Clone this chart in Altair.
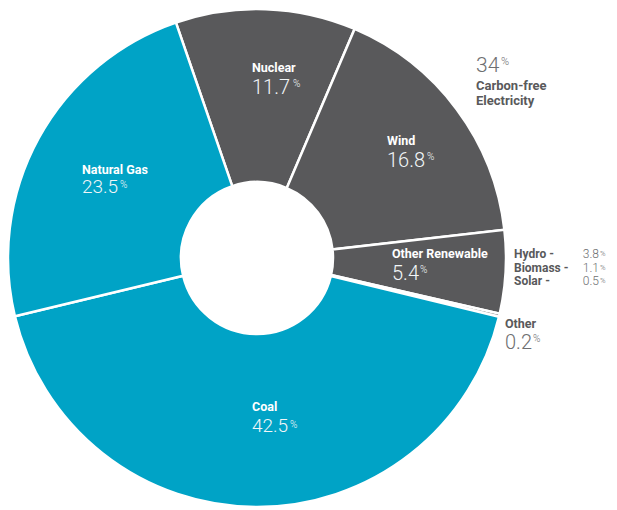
import math
import altair as alt
import pandas as pd

# ---- data ----
categories = ["Nuclear", "Wind", "Other Renewable", "Other", "Coal", "Natural Gas"]
shares = [11.7, 16.8, 5.4, 0.2, 42.5, 23.5]
groups = ["carbon-free", "carbon-free", "carbon-free", "other", "fossil", "fossil"]

carbon_free_total = "34"
carbon_free_lines = ["Carbon-free", "Electricity"]
renew_names = ["Hydro -", "Biomass -", "Solar -"]
renew_values = [3.8, 1.1, 0.5]

# ---- styles / layout ----
TEAL = "#00A3C6"
GREY = "#59595B"
LGREY = "#6E6F71"
LABEL_FONT = "Roboto"
VALUE_FONT = "Roboto"
CX, CY = 257, 258
R_OUT, R_IN = 249, 76
START = 2 * math.pi - math.radians(19)

pie_df = pd.DataFrame({
    "category": categories,
    "share": shares,
    "group": groups,
    "idx": list(range(len(categories))),
})

pie = alt.Chart(pie_df).mark_arc(
    outerRadius=R_OUT, innerRadius=R_IN, stroke="white", strokeWidth=2.5
).encode(
    theta=alt.Theta("share:Q", stack=True,
                    scale=alt.Scale(range=[START, START + 2 * math.pi])),
    order=alt.Order("idx:Q"),
    color=alt.Color("group:N",
                    scale=alt.Scale(domain=["carbon-free", "other", "fossil"],
                                    range=[GREY, GREY, TEAL]),
                    legend=None),
    x=alt.value(CX),
    y=alt.value(CY),
)

# label layout: left x, label baseline, value baseline, % x, % top, value size, inside?
layout = {
    "Nuclear":         (252, 72, 94, 293, 79, 20, True),
    "Wind":            (387, 145, 167, 427, 152, 20, True),
    "Other Renewable": (392, 258, 280, 420, 265, 20, True),
    "Other":           (505, 328, 349, 533, 334, 20, False),
    "Coal":            (252, 411, 432, 290, 420, 19, True),
    "Natural Gas":     (82, 174, 193, 120, 180, 19, True),
}

rows = []
for cat, val in zip(categories, shares):
    lx, ly, vy, px, py, vs, inside = layout[cat]
    rows.append({"cat": cat, "val": f"{val}", "lx": lx, "ly": ly, "vy": vy,
                 "px": px, "py": py, "vs": vs,
                 "lc": "white" if inside else GREY,
                 "vc": "#F2F6F8" if inside else LGREY})
lab_df = pd.DataFrame(rows)


def X(f):
    return alt.X(f"{f}:Q", scale=None, axis=None)


def Y(f):
    return alt.Y(f"{f}:Q", scale=None, axis=None)


cat_text = alt.Chart(lab_df).mark_text(
    align="left", baseline="alphabetic", font=LABEL_FONT, fontWeight="bold", fontSize=12.5
).encode(x=X("lx"), y=Y("ly"), text="cat:N", color=alt.Color("lc:N", scale=None))

val_text = alt.Chart(lab_df).mark_text(
    align="left", baseline="alphabetic", font=VALUE_FONT, fontWeight=300
).encode(x=X("lx"), y=Y("vy"), text="val:N",
         size=alt.Size("vs:Q", scale=None, legend=None),
         color=alt.Color("vc:N", scale=None))

pct_text = alt.Chart(lab_df).mark_text(
    align="left", baseline="top", font=VALUE_FONT, fontWeight=300, fontSize=10
).encode(x=X("px"), y=Y("py"), text=alt.value("%"),
         color=alt.Color("vc:N", scale=None))

# carbon-free annotation
cf_df = pd.DataFrame({"t": carbon_free_lines, "x": [476, 476], "y": [90, 105]})
cf_lines = alt.Chart(cf_df).mark_text(
    align="left", baseline="alphabetic", font=LABEL_FONT, fontWeight="bold",
    fontSize=13, color=GREY
).encode(x=X("x"), y=Y("y"), text="t:N")

cf_num_df = pd.DataFrame({"t": [carbon_free_total], "x": [476], "y": [72]})
cf_num = alt.Chart(cf_num_df).mark_text(
    align="left", baseline="alphabetic", font=VALUE_FONT, fontWeight=300,
    fontSize=21, color=LGREY
).encode(x=X("x"), y=Y("y"), text="t:N")
cf_pct = alt.Chart(cf_num_df).mark_text(
    align="left", baseline="top", font=VALUE_FONT, fontWeight=300,
    fontSize=11, color=LGREY
).encode(x=alt.value(501), y=alt.value(56), text=alt.value("%"))

# renewable breakdown
rn_df = pd.DataFrame({
    "name": renew_names,
    "v": [f"{v}" for v in renew_values],
    "y": [258, 271.5, 285],
    "py": [250, 263.5, 277],
})
rn_names = alt.Chart(rn_df).mark_text(
    align="left", baseline="alphabetic", font=LABEL_FONT, fontWeight="bold",
    fontSize=12, color=GREY
).encode(x=alt.value(514), y=Y("y"), text="name:N")
rn_vals = alt.Chart(rn_df).mark_text(
    align="right", baseline="alphabetic", font=VALUE_FONT, fontWeight=300,
    fontSize=12, color=LGREY
).encode(x=alt.value(599), y=Y("y"), text="v:N")
rn_pct = alt.Chart(rn_df).mark_text(
    align="left", baseline="top", font=VALUE_FONT, fontWeight=300,
    fontSize=7.5, color=LGREY
).encode(x=alt.value(600), y=Y("py"), text=alt.value("%"))

chart = alt.layer(
    pie, cat_text, val_text, pct_text, cf_lines, cf_num, cf_pct,
    rn_names, rn_vals, rn_pct
).properties(
    width=617, height=510, padding=0,
    autosize=alt.AutoSizeParams(type="none"),
).configure_view(stroke=None)

chart.save("out.html", embed_options={"renderer": "svg", "actions": False})
